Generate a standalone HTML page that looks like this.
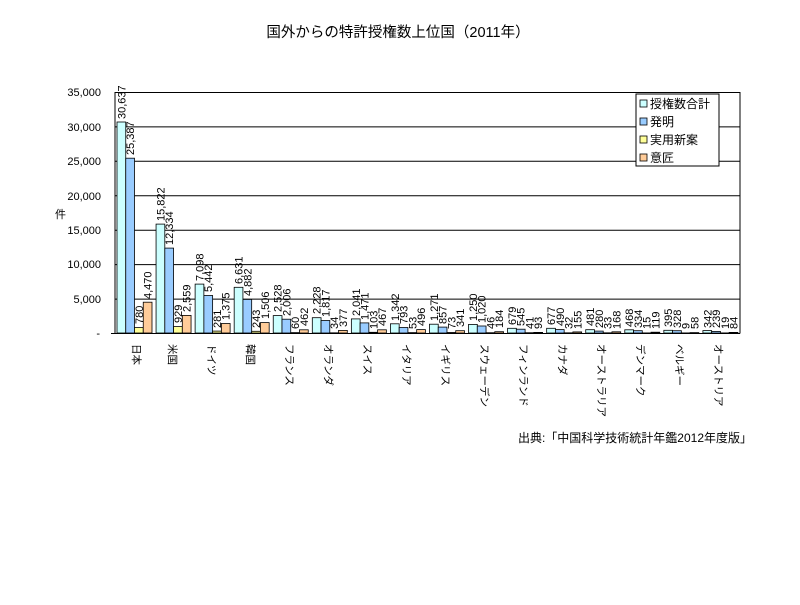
<!DOCTYPE html>
<html><head><meta charset="utf-8"><style>
html,body{margin:0;padding:0;background:#fff;}
svg text{font-family:"Liberation Sans","Noto Sans CJK JP",sans-serif;fill:#000;}
</style></head><body>
<svg width="800" height="600" xmlns="http://www.w3.org/2000/svg">
<rect width="800" height="600" fill="#fff"/>
<text x="398" y="37" font-size="14.5" text-anchor="middle">国外からの特許授権数上位国（2011年）</text>
<!-- grid -->
<g stroke="#000" stroke-width="1">
<line x1="115" y1="92.5" x2="740" y2="92.5"/>
<line x1="115" y1="126.9" x2="740" y2="126.9"/>
<line x1="115" y1="161.3" x2="740" y2="161.3"/>
<line x1="115" y1="195.8" x2="740" y2="195.8"/>
<line x1="115" y1="230.2" x2="740" y2="230.2"/>
<line x1="115" y1="264.6" x2="740" y2="264.6"/>
<line x1="115" y1="299.1" x2="740" y2="299.1"/>
<line x1="115" y1="92" x2="115" y2="333.5"/>
<line x1="740" y1="92" x2="740" y2="333.5"/>
<line x1="111" y1="333.5" x2="740" y2="333.5"/>
</g>
<g font-size="11" text-anchor="end">
<text x="101" y="96">35,000</text>
<text x="101" y="131">30,000</text>
<text x="101" y="165">25,000</text>
<text x="101" y="200">20,000</text>
<text x="101" y="234">15,000</text>
<text x="101" y="268">10,000</text>
<text x="101" y="303">5,000</text>
<text x="100" y="337">-</text>
</g>
<text x="55" y="218" font-size="11">件</text>

<defs>
<g id="dummy"></g>
</defs>
<g stroke="#000" stroke-width="0.8" font-size="11">
<!-- Japan -->
<g transform="translate(117,333)">
<rect x="0" y="-211" width="8.75" height="211" fill="#ccffff"/><rect x="8.75" y="-174.8" width="8.75" height="174.8" fill="#99ccff"/><rect x="17.5" y="-5.4" width="8.75" height="5.4" fill="#ffff99"/><rect x="26.25" y="-30.8" width="8.75" height="30.8" fill="#ffcc99"/>
<text stroke="none" transform="translate(8.4,-214) rotate(-90)">30,637</text><text stroke="none" transform="translate(17.1,-178) rotate(-90)">25,387</text><text stroke="none" transform="translate(25.9,-9) rotate(-90)">780</text><text stroke="none" transform="translate(34.6,-34) rotate(-90)">4,470</text>
</g>
<g transform="translate(156.06,333)">
<rect x="0" y="-108.9" width="8.75" height="108.9" fill="#ccffff"/><rect x="8.75" y="-84.9" width="8.75" height="84.9" fill="#99ccff"/><rect x="17.5" y="-6.4" width="8.75" height="6.4" fill="#ffff99"/><rect x="26.25" y="-17.6" width="8.75" height="17.6" fill="#ffcc99"/>
<text stroke="none" transform="translate(8.4,-112) rotate(-90)">15,822</text><text stroke="none" transform="translate(17.1,-88) rotate(-90)">12,334</text><text stroke="none" transform="translate(25.9,-10) rotate(-90)">929</text><text stroke="none" transform="translate(34.6,-21) rotate(-90)">2,559</text>
</g>
<g transform="translate(195.12,333)">
<rect x="0" y="-48.9" width="8.75" height="48.9" fill="#ccffff"/><rect x="8.75" y="-37.5" width="8.75" height="37.5" fill="#99ccff"/><rect x="17.5" y="-1.9" width="8.75" height="1.9" fill="#ffff99"/><rect x="26.25" y="-9.5" width="8.75" height="9.5" fill="#ffcc99"/>
<text stroke="none" transform="translate(8.4,-52) rotate(-90)">7,098</text><text stroke="none" transform="translate(17.1,-41) rotate(-90)">5,442</text><text stroke="none" transform="translate(25.9,-5) rotate(-90)">281</text><text stroke="none" transform="translate(34.6,-13) rotate(-90)">1,375</text>
</g>
<g transform="translate(234.18,333)">
<rect x="0" y="-45.7" width="8.75" height="45.7" fill="#ccffff"/><rect x="8.75" y="-33.6" width="8.75" height="33.6" fill="#99ccff"/><rect x="17.5" y="-1.7" width="8.75" height="1.7" fill="#ffff99"/><rect x="26.25" y="-10.4" width="8.75" height="10.4" fill="#ffcc99"/>
<text stroke="none" transform="translate(8.4,-49) rotate(-90)">6,631</text><text stroke="none" transform="translate(17.1,-37) rotate(-90)">4,882</text><text stroke="none" transform="translate(25.9,-5) rotate(-90)">243</text><text stroke="none" transform="translate(34.6,-14) rotate(-90)">1,506</text>
</g>
<g transform="translate(273.24,333)">
<rect x="0" y="-17.4" width="8.75" height="17.4" fill="#ccffff"/><rect x="8.75" y="-13.8" width="8.75" height="13.8" fill="#99ccff"/><rect x="17.5" y="-0.4" width="8.75" height="0.4" fill="#ffff99"/><rect x="26.25" y="-3.2" width="8.75" height="3.2" fill="#ffcc99"/>
<text stroke="none" transform="translate(8.4,-21) rotate(-90)">2,528</text><text stroke="none" transform="translate(17.1,-17) rotate(-90)">2,006</text><text stroke="none" transform="translate(25.9,-4) rotate(-90)">60</text><text stroke="none" transform="translate(34.6,-7) rotate(-90)">462</text>
</g>
<g transform="translate(312.3,333)">
<rect x="0" y="-15.3" width="8.75" height="15.3" fill="#ccffff"/><rect x="8.75" y="-12.5" width="8.75" height="12.5" fill="#99ccff"/><rect x="17.5" y="-0.2" width="8.75" height="0.2" fill="#ffff99"/><rect x="26.25" y="-2.6" width="8.75" height="2.6" fill="#ffcc99"/>
<text stroke="none" transform="translate(8.4,-19) rotate(-90)">2,228</text><text stroke="none" transform="translate(17.1,-16) rotate(-90)">1,817</text><text stroke="none" transform="translate(25.9,-4) rotate(-90)">34</text><text stroke="none" transform="translate(34.6,-6) rotate(-90)">377</text>
</g>
<g transform="translate(351.36,333)">
<rect x="0" y="-14.1" width="8.75" height="14.1" fill="#ccffff"/><rect x="8.75" y="-10.1" width="8.75" height="10.1" fill="#99ccff"/><rect x="17.5" y="-0.7" width="8.75" height="0.7" fill="#ffff99"/><rect x="26.25" y="-3.2" width="8.75" height="3.2" fill="#ffcc99"/>
<text stroke="none" transform="translate(8.4,-17) rotate(-90)">2,041</text><text stroke="none" transform="translate(17.1,-13) rotate(-90)">1,471</text><text stroke="none" transform="translate(25.9,-4) rotate(-90)">103</text><text stroke="none" transform="translate(34.6,-7) rotate(-90)">467</text>
</g>
<g transform="translate(390.42,333)">
<rect x="0" y="-9.2" width="8.75" height="9.2" fill="#ccffff"/><rect x="8.75" y="-5.5" width="8.75" height="5.5" fill="#99ccff"/><rect x="17.5" y="-0.4" width="8.75" height="0.4" fill="#ffff99"/><rect x="26.25" y="-3.4" width="8.75" height="3.4" fill="#ffcc99"/>
<text stroke="none" transform="translate(8.4,-12) rotate(-90)">1,342</text><text stroke="none" transform="translate(17.1,-9) rotate(-90)">793</text><text stroke="none" transform="translate(25.9,-4) rotate(-90)">53</text><text stroke="none" transform="translate(34.6,-7) rotate(-90)">496</text>
</g>
<g transform="translate(429.48,333)">
<rect x="0" y="-8.8" width="8.75" height="8.8" fill="#ccffff"/><rect x="8.75" y="-5.9" width="8.75" height="5.9" fill="#99ccff"/><rect x="17.5" y="-0.5" width="8.75" height="0.5" fill="#ffff99"/><rect x="26.25" y="-2.3" width="8.75" height="2.3" fill="#ffcc99"/>
<text stroke="none" transform="translate(8.4,-12) rotate(-90)">1,271</text><text stroke="none" transform="translate(17.1,-9) rotate(-90)">857</text><text stroke="none" transform="translate(25.9,-4) rotate(-90)">73</text><text stroke="none" transform="translate(34.6,-6) rotate(-90)">341</text>
</g>
<g transform="translate(468.54,333)">
<rect x="0" y="-8.6" width="8.75" height="8.6" fill="#ccffff"/><rect x="8.75" y="-7" width="8.75" height="7" fill="#99ccff"/><rect x="17.5" y="-0.3" width="8.75" height="0.3" fill="#ffff99"/><rect x="26.25" y="-1.3" width="8.75" height="1.3" fill="#ffcc99"/>
<text stroke="none" transform="translate(8.4,-12) rotate(-90)">1,250</text><text stroke="none" transform="translate(17.1,-10) rotate(-90)">1,020</text><text stroke="none" transform="translate(25.9,-4) rotate(-90)">46</text><text stroke="none" transform="translate(34.6,-5) rotate(-90)">184</text>
</g>
<g transform="translate(507.6,333)">
<rect x="0" y="-4.7" width="8.75" height="4.7" fill="#ccffff"/><rect x="8.75" y="-3.8" width="8.75" height="3.8" fill="#99ccff"/><rect x="17.5" y="-0.3" width="8.75" height="0.3" fill="#ffff99"/><rect x="26.25" y="-0.6" width="8.75" height="0.6" fill="#ffcc99"/>
<text stroke="none" transform="translate(8.4,-8) rotate(-90)">679</text><text stroke="none" transform="translate(17.1,-7) rotate(-90)">545</text><text stroke="none" transform="translate(25.9,-4) rotate(-90)">41</text><text stroke="none" transform="translate(34.6,-4) rotate(-90)">93</text>
</g>
<g transform="translate(546.66,333)">
<rect x="0" y="-4.7" width="8.75" height="4.7" fill="#ccffff"/><rect x="8.75" y="-3.4" width="8.75" height="3.4" fill="#99ccff"/><rect x="17.5" y="-0.2" width="8.75" height="0.2" fill="#ffff99"/><rect x="26.25" y="-1.1" width="8.75" height="1.1" fill="#ffcc99"/>
<text stroke="none" transform="translate(8.4,-8) rotate(-90)">677</text><text stroke="none" transform="translate(17.1,-7) rotate(-90)">490</text><text stroke="none" transform="translate(25.9,-4) rotate(-90)">32</text><text stroke="none" transform="translate(34.6,-4) rotate(-90)">155</text>
</g>
<g transform="translate(585.72,333)">
<rect x="0" y="-3.3" width="8.75" height="3.3" fill="#ccffff"/><rect x="8.75" y="-1.9" width="8.75" height="1.9" fill="#99ccff"/><rect x="17.5" y="-0.2" width="8.75" height="0.2" fill="#ffff99"/><rect x="26.25" y="-1.2" width="8.75" height="1.2" fill="#ffcc99"/>
<text stroke="none" transform="translate(8.4,-7) rotate(-90)">481</text><text stroke="none" transform="translate(17.1,-5) rotate(-90)">280</text><text stroke="none" transform="translate(25.9,-4) rotate(-90)">33</text><text stroke="none" transform="translate(34.6,-4) rotate(-90)">168</text>
</g>
<g transform="translate(624.78,333)">
<rect x="0" y="-3.2" width="8.75" height="3.2" fill="#ccffff"/><rect x="8.75" y="-2.3" width="8.75" height="2.3" fill="#99ccff"/><rect x="17.5" y="-0.1" width="8.75" height="0.1" fill="#ffff99"/><rect x="26.25" y="-0.8" width="8.75" height="0.8" fill="#ffcc99"/>
<text stroke="none" transform="translate(8.4,-6) rotate(-90)">468</text><text stroke="none" transform="translate(17.1,-5) rotate(-90)">334</text><text stroke="none" transform="translate(25.9,-4) rotate(-90)">15</text><text stroke="none" transform="translate(34.6,-4) rotate(-90)">119</text>
</g>
<g transform="translate(663.84,333)">
<rect x="0" y="-2.7" width="8.75" height="2.7" fill="#ccffff"/><rect x="8.75" y="-2.3" width="8.75" height="2.3" fill="#99ccff"/><rect x="17.5" y="-0.1" width="8.75" height="0.1" fill="#ffff99"/><rect x="26.25" y="-0.4" width="8.75" height="0.4" fill="#ffcc99"/>
<text stroke="none" transform="translate(8.4,-6) rotate(-90)">395</text><text stroke="none" transform="translate(17.1,-5) rotate(-90)">328</text><text stroke="none" transform="translate(25.9,-4) rotate(-90)">9</text><text stroke="none" transform="translate(34.6,-4) rotate(-90)">58</text>
</g>
<g transform="translate(702.9,333)">
<rect x="0" y="-2.4" width="8.75" height="2.4" fill="#ccffff"/><rect x="8.75" y="-1.6" width="8.75" height="1.6" fill="#99ccff"/><rect x="17.5" y="-0.1" width="8.75" height="0.1" fill="#ffff99"/><rect x="26.25" y="-0.6" width="8.75" height="0.6" fill="#ffcc99"/>
<text stroke="none" transform="translate(8.4,-5) rotate(-90)">342</text><text stroke="none" transform="translate(17.1,-5) rotate(-90)">239</text><text stroke="none" transform="translate(25.9,-4) rotate(-90)">19</text><text stroke="none" transform="translate(34.6,-4) rotate(-90)">84</text>
</g>
</g>

<!-- category labels -->
<g font-size="10.5">
<text transform="translate(133,344) rotate(90)">日本</text>
<text transform="translate(169,344) rotate(90)">米国</text>
<text transform="translate(208,344) rotate(90)">ドイツ</text>
<text transform="translate(247,344) rotate(90)">韓国</text>
<text transform="translate(286,344) rotate(90)">フランス</text>
<text transform="translate(325,344) rotate(90)">オランダ</text>
<text transform="translate(364,344) rotate(90)">スイス</text>
<text transform="translate(403,344) rotate(90)">イタリア</text>
<text transform="translate(442,344) rotate(90)">イギリス</text>
<text transform="translate(481,344) rotate(90)">スウェーデン</text>
<text transform="translate(520,344) rotate(90)">フィンランド</text>
<text transform="translate(559,344) rotate(90)">カナダ</text>
<text transform="translate(598,344) rotate(90)">オーストラリア</text>
<text transform="translate(637,344) rotate(90)">デンマーク</text>
<text transform="translate(676,344) rotate(90)">ベルギー</text>
<text transform="translate(715,344) rotate(90)">オーストリア</text>
</g>

<!-- legend -->
<rect x="636" y="94" width="83" height="72" fill="#fff" stroke="#000" stroke-width="1"/>
<g stroke="#000" stroke-width="0.8">
<rect x="640" y="100" width="7" height="7" fill="#ccffff"/>
<rect x="640" y="118" width="7" height="7" fill="#99ccff"/>
<rect x="640" y="136" width="7" height="7" fill="#ffff99"/>
<rect x="640" y="154" width="7" height="7" fill="#ffcc99"/>
</g>
<g font-size="12">
<text x="650" y="108">授権数合計</text>
<text x="650" y="126">発明</text>
<text x="650" y="144">実用新案</text>
<text x="650" y="162">意匠</text>
</g>

<text x="752" y="442" font-size="12" text-anchor="end">出典:「中国科学技術統計年鑑2012年度版」</text>
</svg>
</body></html>
